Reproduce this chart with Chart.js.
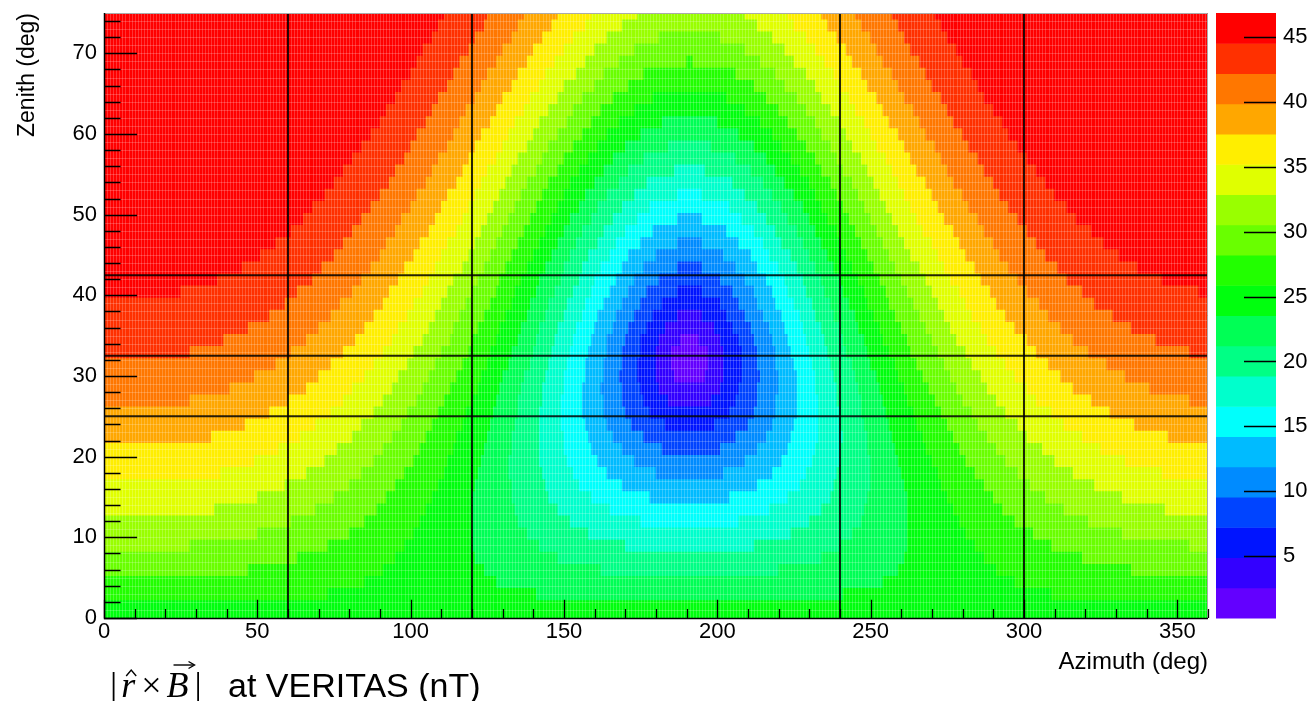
<!DOCTYPE html>
<html><head><meta charset="utf-8">
<script src="https://cdn.jsdelivr.net/npm/chart.js@4/dist/chart.umd.min.js"></script>
<style>html,body{margin:0;padding:0;background:#fff;}canvas{display:block;}</style>
</head><body>
<canvas id="c" width="1314" height="701"></canvas>
<script>
// ---- axis ticks ----
const azimuthTicks = [0, 50, 100, 150, 200, 250, 300, 350];
const zenithTicks = [0, 10, 20, 30, 40, 50, 60, 70];
const colorbarTicks = [5, 10, 15, 20, 25, 30, 35, 40, 45];
// colour scale range (nT) and number of contour bands
const zRange = [0.23, 46.85];
const nBands = 20;
const rowZenith = [0,1.5,3,4.5,6,7.5,9,10.5,12,13.5,15,16.5,18,19.5,21,22.5,24,25.5,27,28.5,30,31.5,33,34.5,36,37.5,
                   39,40.5,42,43.5,45,46.5,48,49.5,51,52.5,54,55.5,57,58.5,60,61.5,63,64.5,66,67.5,69,70.5,72,73.5,75];
// each row: band index, azimuth where that band ends, band, end ... (read left to right)
const rowBands = [
 [10,360],
 [10,360],
 [11,73, 10,141, 9,241, 10,309, 11,360],
 [11,85, 10,128, 9,254, 10,297, 11,360],
 [12,47, 11,91, 10,124, 9,162, 8,220, 9,259, 10,291, 11,335, 12,360],
 [12,63, 11,95, 10,121, 9,148, 8,234, 9,261, 10,287, 11,319, 12,360],
 [13,28, 12,73, 11,98, 10,120, 9,142, 8,170, 7,212, 8,240, 9,262, 10,284, 11,309, 12,354, 13,360],
 [13,50, 12,80, 11,101, 10,120, 9,138, 8,158, 7,224, 8,244, 9,262, 10,281, 11,303, 12,332, 13,360],
 [13,61, 12,85, 11,103, 10,120, 9,135, 8,152, 7,175, 6,207, 7,230, 8,247, 9,262, 10,279, 11,297, 12,321, 13,360],
 [14,36, 13,69, 12,89, 11,105, 10,120, 9,134, 8,148, 7,165, 6,217, 7,234, 8,248, 9,262, 10,277, 11,293, 12,313, 13,346, 14,360],
 [14,50, 13,75, 12,92, 11,107, 10,120, 9,133, 8,145, 7,159, 6,178, 5,204, 6,223, 7,237, 8,249, 9,262, 10,275, 11,290, 12,307, 13,332, 14,360],
 [14,59, 13,80, 12,95, 11,109, 10,121, 9,133, 8,144, 7,155, 6,169, 5,213, 6,227, 7,238, 8,250, 9,261, 10,273, 11,287, 12,302, 13,323, 14,360],
 [15,38, 14,66, 13,84, 12,98, 11,111, 10,122, 9,132, 8,143, 7,153, 6,164, 5,180, 4,202, 5,218, 6,229, 7,239, 8,250, 9,260, 10,272, 11,284, 12,298, 13,316, 14,345, 15,360],
 [15,49, 14,72, 13,88, 12,101, 11,112, 10,123, 9,132, 8,142, 7,151, 6,161, 5,173, 4,209, 5,221, 6,231, 7,240, 8,250, 9,259, 10,270, 11,281, 12,294, 13,310, 14,333, 15,360],
 [15,57, 14,76, 13,91, 12,103, 11,114, 10,124, 9,133, 8,142, 7,150, 6,159, 5,169, 4,182, 3,201, 4,213, 5,223, 6,232, 7,240, 8,249, 9,258, 10,268, 11,279, 12,291, 13,306, 14,325, 15,360],
 [16,35, 15,64, 14,81, 13,94, 12,105, 11,115, 10,125, 9,133, 8,142, 7,150, 6,158, 5,166, 4,176, 3,206, 4,216, 5,224, 6,233, 7,241, 8,249, 9,257, 10,267, 11,277, 12,288, 13,301, 14,319, 15,347, 16,360],
 [16,46, 15,69, 14,84, 13,97, 12,107, 11,117, 10,126, 9,134, 8,142, 7,149, 6,157, 5,164, 4,172, 3,183, 2,199, 3,210, 4,218, 5,225, 6,233, 7,240, 8,248, 9,256, 10,265, 11,275, 12,285, 13,298, 14,313, 15,336, 16,360],
 [16,54, 15,74, 14,88, 13,99, 12,109, 11,118, 10,127, 9,135, 8,142, 7,149, 6,156, 5,163, 4,170, 3,178, 2,204, 3,212, 4,219, 5,226, 6,233, 7,240, 8,247, 9,255, 10,264, 11,273, 12,283, 13,294, 14,309, 15,328, 16,360],
 [17,28, 16,60, 15,78, 14,91, 13,102, 12,111, 11,120, 10,128, 9,135, 8,143, 7,149, 6,156, 5,163, 4,169, 3,176, 2,184, 1,198, 2,206, 3,213, 4,219, 5,226, 6,233, 7,239, 8,247, 9,254, 10,262, 11,271, 12,280, 13,291, 14,304, 15,322, 16,354, 17,360],
 [17,41, 16,66, 15,81, 14,94, 13,104, 12,113, 11,122, 10,129, 9,136, 8,143, 7,150, 6,156, 5,162, 4,169, 3,175, 2,181, 1,201, 2,207, 3,213, 4,220, 5,226, 6,232, 7,239, 8,246, 9,253, 10,261, 11,269, 12,278, 13,288, 14,301, 15,316, 16,341, 17,360],
 [17,49, 16,70, 15,85, 14,96, 13,106, 12,115, 11,123, 10,130, 9,137, 8,144, 7,150, 6,157, 5,163, 4,168, 3,174, 2,180, 1,186, 0,196, 1,202, 2,208, 3,214, 4,220, 5,226, 6,232, 7,238, 8,245, 9,252, 10,259, 11,267, 12,276, 13,286, 14,297, 15,312, 16,333, 17,360],
 [17,56, 16,74, 15,88, 14,99, 13,108, 12,117, 11,125, 10,132, 9,139, 8,145, 7,151, 6,157, 5,163, 4,169, 3,174, 2,180, 1,185, 0,197, 1,202, 2,208, 3,213, 4,219, 5,225, 6,231, 7,237, 8,244, 9,250, 10,258, 11,265, 12,274, 13,283, 14,294, 15,308, 16,327, 17,360],
 [18,28, 17,61, 16,78, 15,91, 14,101, 13,110, 12,119, 11,126, 10,133, 9,140, 8,146, 7,152, 6,158, 5,164, 4,169, 3,175, 2,180, 1,185, 0,197, 1,202, 2,208, 3,213, 4,219, 5,224, 6,230, 7,236, 8,242, 9,249, 10,256, 11,263, 12,272, 13,281, 14,291, 15,304, 16,321, 17,354, 18,360],
 [18,39, 17,66, 16,82, 15,94, 14,104, 13,113, 12,120, 11,128, 10,135, 9,141, 8,147, 7,153, 6,159, 5,164, 4,170, 3,175, 2,181, 1,188, 0,194, 1,201, 2,207, 3,212, 4,218, 5,223, 6,229, 7,235, 8,241, 9,248, 10,254, 11,262, 12,270, 13,278, 14,288, 15,301, 16,316, 17,343, 18,360],
 [18,47, 17,70, 16,85, 15,96, 14,106, 13,114, 12,122, 11,129, 10,136, 9,142, 8,148, 7,154, 6,160, 5,166, 4,171, 3,177, 2,183, 1,199, 2,205, 3,211, 4,217, 5,222, 6,228, 7,234, 8,240, 9,246, 10,253, 11,260, 12,268, 13,276, 14,286, 15,297, 16,312, 17,335, 18,360],
 [18,54, 17,74, 16,88, 15,99, 14,108, 13,116, 12,124, 11,131, 10,138, 9,144, 8,150, 7,156, 6,161, 5,167, 4,173, 3,179, 2,187, 1,195, 2,203, 3,209, 4,215, 5,221, 6,227, 7,232, 8,238, 9,245, 10,251, 11,258, 12,266, 13,274, 14,283, 15,294, 16,308, 17,329, 18,360],
 [18,59, 17,77, 16,91, 15,101, 14,110, 13,118, 12,126, 11,133, 10,139, 9,145, 8,151, 7,157, 6,163, 5,169, 4,175, 3,182, 2,201, 3,207, 4,213, 5,219, 6,225, 7,231, 8,237, 9,243, 10,249, 11,256, 12,264, 13,272, 14,281, 15,291, 16,305, 17,323, 18,360],
 [19,25, 18,63, 17,81, 16,93, 15,104, 14,112, 13,120, 12,128, 11,134, 10,141, 9,147, 8,153, 7,159, 6,165, 5,171, 4,177, 3,187, 2,195, 3,205, 4,212, 5,218, 6,223, 7,229, 8,235, 9,241, 10,248, 11,255, 12,262, 13,270, 14,279, 15,289, 16,301, 17,319, 18,357, 19,360],
 [19,37, 18,68, 17,84, 16,96, 15,106, 14,114, 13,122, 12,129, 11,136, 10,142, 9,149, 8,155, 7,160, 6,167, 5,173, 4,181, 3,201, 4,209, 5,216, 6,222, 7,228, 8,234, 9,240, 10,246, 11,253, 12,260, 13,268, 14,276, 15,286, 16,298, 17,314, 18,345, 19,360],
 [19,45, 18,71, 17,87, 16,98, 15,108, 14,117, 13,124, 12,131, 11,138, 10,144, 9,150, 8,156, 7,162, 6,169, 5,176, 4,187, 3,195, 4,206, 5,213, 6,220, 7,226, 8,232, 9,238, 10,244, 11,251, 12,258, 13,266, 14,274, 15,284, 16,295, 17,311, 18,337, 19,360],
 [19,51, 18,75, 17,90, 16,101, 15,110, 14,119, 13,126, 12,133, 11,140, 10,146, 9,152, 8,158, 7,165, 6,171, 5,180, 4,202, 5,211, 6,217, 7,224, 8,230, 9,236, 10,242, 11,249, 12,256, 13,263, 14,272, 15,281, 16,292, 17,307, 18,331, 19,360],
 [19,56, 18,78, 17,92, 16,103, 15,112, 14,121, 13,128, 12,135, 11,142, 10,148, 9,154, 8,161, 7,167, 6,175, 5,187, 4,195, 5,207, 6,215, 7,221, 8,228, 9,234, 10,240, 11,247, 12,254, 13,261, 14,270, 15,279, 16,290, 17,304, 18,326, 19,360],
 [19,61, 18,81, 17,95, 16,106, 15,115, 14,123, 13,130, 12,137, 11,144, 10,150, 9,156, 8,163, 7,170, 6,179, 5,203, 6,212, 7,219, 8,226, 9,232, 10,239, 11,245, 12,252, 13,259, 14,267, 15,277, 16,287, 17,301, 18,322, 19,360],
 [19,65, 18,84, 17,97, 16,108, 15,117, 14,125, 13,132, 12,139, 11,146, 10,152, 9,159, 8,166, 7,174, 6,187, 5,195, 6,208, 7,216, 8,223, 9,230, 10,236, 11,243, 12,250, 13,257, 14,265, 15,274, 16,285, 17,298, 18,317, 19,360],
 [19,68, 18,87, 17,100, 16,110, 15,119, 14,127, 13,134, 12,141, 11,148, 10,155, 9,161, 8,169, 7,178, 6,204, 7,213, 8,221, 9,228, 10,234, 11,241, 12,248, 13,255, 14,263, 15,272, 16,282, 17,295, 18,314, 19,360],
 [19,72, 18,90, 17,102, 16,112, 15,121, 14,129, 13,136, 12,143, 11,150, 10,157, 9,164, 8,173, 7,187, 6,195, 7,209, 8,218, 9,225, 10,232, 11,239, 12,246, 13,253, 14,261, 15,270, 16,280, 17,292, 18,310, 19,360],
 [19,75, 18,93, 17,105, 16,115, 15,123, 14,131, 13,138, 12,145, 11,152, 10,160, 9,168, 8,177, 7,205, 8,215, 9,222, 10,230, 11,237, 12,244, 13,251, 14,259, 15,268, 16,277, 17,290, 18,307, 19,360],
 [19,78, 18,95, 17,107, 16,117, 15,125, 14,133, 13,141, 12,148, 11,155, 10,163, 9,171, 8,186, 7,196, 8,211, 9,219, 10,227, 11,234, 12,241, 13,249, 14,257, 15,265, 16,275, 17,287, 18,304, 19,360],
 [19,81, 18,98, 17,109, 16,119, 15,128, 14,135, 13,143, 12,150, 11,158, 10,166, 9,176, 8,206, 9,216, 10,224, 11,232, 12,239, 13,247, 14,255, 15,263, 16,273, 17,285, 18,301, 19,360],
 [19,84, 18,100, 17,112, 16,121, 15,130, 14,138, 13,145, 12,153, 11,161, 10,170, 9,184, 8,198, 9,212, 10,221, 11,229, 12,237, 13,244, 14,252, 15,261, 16,271, 17,282, 18,298, 19,360],
 [19,87, 18,102, 17,114, 16,123, 15,132, 14,140, 13,148, 12,156, 11,164, 10,175, 9,207, 10,218, 11,226, 12,234, 13,242, 14,250, 15,259, 16,268, 17,280, 18,295, 19,360],
 [19,90, 18,105, 17,116, 16,126, 15,134, 14,142, 13,151, 12,159, 11,168, 10,182, 9,200, 10,214, 11,223, 12,232, 13,240, 14,248, 15,256, 16,266, 17,277, 18,293, 19,360],
 [19,92, 18,107, 17,118, 16,128, 15,137, 14,145, 13,153, 12,162, 11,173, 10,209, 11,220, 12,229, 13,237, 14,245, 15,254, 16,264, 17,275, 18,290, 19,360],
 [19,95, 18,109, 17,121, 16,130, 15,139, 14,148, 13,156, 12,166, 11,179, 10,203, 11,216, 12,226, 13,234, 14,243, 15,252, 16,261, 17,273, 18,287, 19,360],
 [19,97, 18,112, 17,123, 16,133, 15,142, 14,150, 13,160, 12,171, 11,212, 12,222, 13,232, 14,240, 15,249, 16,259, 17,270, 18,285, 19,360],
 [19,100, 18,114, 17,125, 16,135, 15,144, 14,154, 13,163, 12,176, 11,206, 12,219, 13,229, 14,238, 15,247, 16,257, 17,268, 18,283, 19,360],
 [19,102, 18,116, 17,128, 16,138, 15,147, 14,157, 13,168, 12,190, 11,192, 12,214, 13,225, 14,235, 15,244, 16,254, 17,266, 18,280, 19,360],
 [19,104, 18,119, 17,130, 16,140, 15,150, 14,160, 13,173, 12,209, 13,222, 14,232, 15,242, 16,252, 17,263, 18,278, 19,360],
 [19,107, 18,121, 17,133, 16,143, 15,153, 14,164, 13,181, 12,201, 13,218, 14,229, 15,239, 16,250, 17,261, 18,275, 19,360],
 [19,109, 18,124, 17,135, 16,146, 15,157, 14,169, 13,213, 14,225, 15,236, 16,247, 17,259, 18,273, 19,360],
 [19,111, 18,125, 17,137, 16,148, 15,159, 14,174, 13,209, 14,223, 15,234, 16,245, 17,257, 18,271, 19,360]
];
// overlay cut lines
const azimuthCuts = [60, 120, 240, 300];
const zenithCuts = [42.5, 32.5, 25];

// ---- style ----
const palette = ['#6300ff','#3300ff','#0014ff','#0044ff','#008bff','#00bbff','#00fffc','#00ffcc','#00ff85','#00ff55',
                 '#00ff0e','#22ff00','#69ff00','#99ff00','#e0ff00','#ffee00','#ffa700','#ff7700','#ff3000','#ff0000'];
const FONT = '"Liberation Sans", Arial, sans-serif';
const dz = (zRange[1] - zRange[0]) / nBands;

const cells = [];
rowBands.forEach((runs, r) => {
  let a = 0;
  for (let i = 0; i < runs.length; i += 2) {
    const lvl = runs[i], end = runs[i + 1];
    cells.push({ y: rowZenith[r], x: [a, end], lvl: lvl, v: zRange[0] + (lvl + 0.5) * dz });
    a = end;
  }
});

const datasets = [{
  type: 'bar', indexAxis: 'y', data: cells, xAxisID: 'x', yAxisID: 'y', order: 1,
  backgroundColor: c => palette[c.raw ? c.raw.lvl : 0],
  borderWidth: 0, barPercentage: 1, categoryPercentage: 1
}];
azimuthCuts.forEach(a => datasets.push({ type: 'line', data: [{x: a, y: 0}, {x: a, y: 75}], xAxisID: 'x', yAxisID: 'y',
  borderColor: 'rgba(0,0,0,0.85)', borderWidth: 2, pointRadius: 0, order: 0 }));
zenithCuts.forEach(z => datasets.push({ type: 'line', data: [{x: 0, y: z}, {x: 360, y: z}], xAxisID: 'x', yAxisID: 'y',
  borderColor: 'rgba(0,0,0,0.85)', borderWidth: 2, pointRadius: 0, order: 0 }));

const rootDeco = {
  id: 'rootDeco',
  afterDatasetDraw(chart, args) {
    if (args.index !== 0) return;
    const { ctx, chartArea: ca, scales: { x, y } } = chart;
    ctx.save();
    ctx.strokeStyle = 'rgba(255,255,255,0.2)'; ctx.lineWidth = 1;
    ctx.beginPath();
    for (let a = 1; a < 360; a++) { const px = Math.round(x.getPixelForValue(a)) + 0.5; ctx.moveTo(px, ca.top); ctx.lineTo(px, ca.bottom); }
    for (let z = 1; z < 75; z++) { const py = Math.round(y.getPixelForValue(z)) + 0.5; ctx.moveTo(ca.left, py); ctx.lineTo(ca.right, py); }
    ctx.stroke();
    ctx.restore();
  },
  afterDraw(chart) {
    const { ctx, chartArea: ca, scales: { x, y, z } } = chart;
    ctx.save();
    // frame
    ctx.strokeStyle = '#aaa'; ctx.lineWidth = 1;
    ctx.beginPath(); ctx.moveTo(ca.left, ca.top + 0.5); ctx.lineTo(ca.right - 0.5, ca.top + 0.5); ctx.lineTo(ca.right - 0.5, ca.bottom); ctx.stroke();
    ctx.strokeStyle = '#000'; ctx.lineWidth = 1.5;
    ctx.beginPath(); ctx.moveTo(ca.left + 0.5, ca.top); ctx.lineTo(ca.left + 0.5, ca.bottom + 0.5); ctx.lineTo(ca.right, ca.bottom + 0.5); ctx.stroke();
    // inward ticks
    const wPlot = ca.right - ca.left, hPlot = ca.bottom - ca.top;
    ctx.lineWidth = 1.3; ctx.strokeStyle = '#000';
    ctx.beginPath();
    for (let v = 0; v <= 75; v += 2) {
      const py = Math.round(y.getPixelForValue(v)) + 0.5;
      const len = (v % 10 === 0) ? wPlot * 0.03 : wPlot * 0.015;
      ctx.moveTo(ca.left, py); ctx.lineTo(ca.left + len, py);
    }
    for (let v = 0; v <= 360; v += 10) {
      const px = Math.round(x.getPixelForValue(v)) + 0.5;
      const len = (v % 50 === 0) ? hPlot * 0.03 : hPlot * 0.015;
      ctx.moveTo(px, ca.bottom); ctx.lineTo(px, ca.bottom - len);
    }
    ctx.stroke();
    // colour bar
    const x0 = ca.right + 8, x1 = ca.right + 68;
    for (let k = 0; k < nBands; k++) {
      const yb = z.getPixelForValue(zRange[0] + k * dz), yt = z.getPixelForValue(zRange[0] + (k + 1) * dz);
      ctx.fillStyle = palette[k];
      ctx.fillRect(x0, yt, x1 - x0, yb - yt + 0.5);
    }
    ctx.strokeStyle = '#000'; ctx.lineWidth = 1.5;
    ctx.beginPath();
    colorbarTicks.forEach(v => { const py = Math.round(z.getPixelForValue(v)) + 0.5; ctx.moveTo(x1 - 32, py); ctx.lineTo(x1, py); });
    ctx.stroke();
    // caption  |r^ x B->|  at VERITAS (nT)
    const base = 697;
    let cx = 110;
    ctx.fillStyle = '#000'; ctx.textBaseline = 'alphabetic'; ctx.textAlign = 'left';
    const put = (t, f) => { ctx.font = f; ctx.fillText(t, cx, base); const w = ctx.measureText(t).width; const s = cx; cx += w; return s; };
    const up = '36px "Liberation Serif", serif', it = 'italic 36px "Liberation Serif", serif';
    put('|', up); cx += 4;
    const rx = put('r', it); cx += 6;
    put('\u00d7', up); cx += 5;
    const bx = put('B', it); cx += 6;
    put('|', up);
    ctx.strokeStyle = '#000'; ctx.lineWidth = 1.4;
    ctx.beginPath(); ctx.moveTo(rx + 5, 676); ctx.lineTo(rx + 10, 670); ctx.lineTo(rx + 15, 676); ctx.stroke();
    ctx.beginPath(); ctx.moveTo(bx + 7, 665); ctx.lineTo(bx + 27, 665); ctx.stroke();
    ctx.beginPath(); ctx.moveTo(bx + 22, 661.5); ctx.lineTo(bx + 28, 665); ctx.lineTo(bx + 22, 668.5); ctx.stroke();
    cx = Math.max(cx + 20, 228);
    put('at VERITAS (nT)', '34px ' + FONT);
    ctx.restore();
  }
};

const noPad = s => { s.paddingLeft = 0; s.paddingRight = 0; s.paddingTop = 0; s.paddingBottom = 0; };
const tickFont = { family: FONT, size: 22 };
new Chart(document.getElementById('c'), {
  type: 'bar',
  data: { datasets },
  plugins: [rootDeco],
  options: {
    responsive: false, animation: false, devicePixelRatio: 1, events: [],
    layout: { padding: { top: 13, left: 0, right: 0, bottom: 0 } },
    plugins: { legend: { display: false }, tooltip: { enabled: false } },
    scales: {
      x: { type: 'linear', position: 'bottom', min: 0, max: 360, offset: false,
        afterBuildTicks: s => { s.ticks = azimuthTicks.map(v => ({ value: v })); },
        afterFit: s => { s.height = 83; noPad(s); },
        grid: { display: false, drawTicks: false, offset: false }, border: { display: false },
        ticks: { autoSkip: false, maxRotation: 0, padding: 1, color: '#000', font: tickFont },
        title: { display: true, text: 'Azimuth (deg)', align: 'end', color: '#000', font: { family: FONT, size: 24 }, padding: { top: 0, bottom: 24 } } },
      y: { type: 'linear', position: 'left', min: 0, max: 75, offset: false,
        afterBuildTicks: s => { s.ticks = zenithTicks.map(v => ({ value: v })); },
        afterFit: s => { s.width = 104; noPad(s); },
        grid: { display: false, drawTicks: false, offset: false }, border: { display: false },
        ticks: { autoSkip: false, padding: 7, color: '#000', font: tickFont },
        title: { display: true, text: 'Zenith (deg)', align: 'end', color: '#000', font: { family: FONT, size: 23 }, padding: { top: 14, bottom: 0 } } },
      z: { type: 'linear', position: 'right', min: zRange[0], max: zRange[1], offset: false,
        afterBuildTicks: s => { s.ticks = colorbarTicks.map(v => ({ value: v })); },
        afterFit: s => { s.width = 106; noPad(s); },
        grid: { display: false, drawTicks: false }, border: { display: false },
        ticks: { autoSkip: false, padding: 75, color: '#000', font: tickFont } }
    }
  }
});
</script>
</body></html>
